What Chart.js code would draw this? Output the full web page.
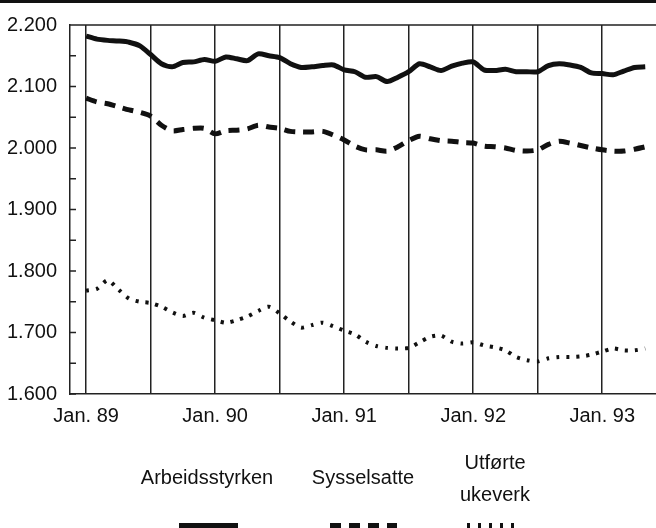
<!DOCTYPE html>
<html>
<head>
<meta charset="utf-8">
<script src="https://cdn.jsdelivr.net/npm/chart.js@4.4.1/dist/chart.umd.min.js"></script>
<style>
  html, body { margin: 0; padding: 0; background: #fff; }
  #wrap { width: 656px; height: 528px; position: relative; }
</style>
</head>
<body>
<div id="wrap"><canvas id="chart"></canvas></div>
<script>
// Monthly values Jan. 89 - May 93, in thousands
const seriesNames = ['Arbeidsstyrken', 'Sysselsatte', 'Utførte ukeverk'];
const xTickLabels = ['Jan. 89', 'Jan. 90', 'Jan. 91', 'Jan. 92', 'Jan. 93'];

const arbeidsstyrken = [
  2182, 2177, 2175, 2174, 2172, 2166, 2152, 2137, 2132, 2139, 2140, 2144,
  2141, 2148, 2145, 2142, 2153, 2150, 2147, 2137, 2131, 2132, 2134, 2135,
  2127, 2124, 2115, 2116, 2108, 2115, 2124, 2137, 2132, 2126, 2133, 2138,
  2140, 2127, 2126, 2128, 2124, 2124, 2124, 2134, 2137, 2135, 2131, 2122,
  2121, 2119, 2125, 2131, 2132
];
const sysselsatte = [
  2081, 2075, 2072, 2067, 2062, 2058, 2052, 2037, 2028, 2030, 2032, 2032,
  2023, 2028, 2029, 2031, 2037, 2034, 2032, 2027, 2026, 2026, 2027, 2021,
  2013, 2003, 1997, 1997, 1995, 2002, 2012, 2019, 2015, 2012, 2011, 2009,
  2008, 2003, 2002, 2000, 1996, 1995, 1997, 2006, 2011, 2008, 2004, 2000,
  1997, 1995, 1995, 1998, 2002
];
const ukeverk = [
  1768, 1771, 1785, 1770, 1755, 1750, 1748, 1742, 1733, 1727, 1732, 1724,
  1720, 1716, 1720, 1726, 1735, 1742, 1731, 1718, 1708, 1712, 1716, 1710,
  1703, 1697, 1685, 1678, 1675, 1674, 1675, 1684, 1693, 1695, 1685, 1682,
  1684, 1679, 1676, 1671, 1660, 1655, 1653, 1658, 1660, 1660, 1661, 1664,
  1669, 1674, 1671, 1671, 1674
];

const FONT = "'Liberation Sans Narrow', 'Arial Narrow', 'Liberation Sans', sans-serif";
const INK = '#111';
const RULE = '#222';

const toPoints = (arr) => arr.map((v, i) => ({ x: i, y: v }));

// legend drawn as label above its line sample
const legendStyle = [
  { cx: 207, lines: ['Arbeidsstyrken'], dash: [], x0: 179, x1: 238 },
  { cx: 363, lines: ['Sysselsatte'], dash: [11, 8], x0: 330, x1: 397 },
  { cx: 495, lines: ['Utførte', 'ukeverk'], dash: [3, 8], x0: 467, x1: 522 }
];

const decorations = {
  id: 'decorations',
  afterDraw(chart) {
    const { ctx, chartArea: a } = chart;
    const y = chart.scales.y;
    ctx.save();
    ctx.fillStyle = INK;
    ctx.fillRect(0, 0, chart.width, 3);

    ctx.strokeStyle = RULE;
    ctx.lineWidth = 1.5;
    ctx.beginPath();
    ctx.moveTo(a.left, a.top);
    ctx.lineTo(a.right, a.top);
    y.ticks.forEach((t) => {
      const py = y.getPixelForValue(t.value);
      ctx.moveTo(a.left, py);
      ctx.lineTo(a.left + 6, py);
    });
    ctx.stroke();

    ctx.font = '20px ' + FONT;
    ctx.fillStyle = INK;
    ctx.textAlign = 'center';
    ctx.textBaseline = 'middle';
    legendStyle.forEach((item) => {
      if (item.lines.length === 1) {
        ctx.fillText(item.lines[0], item.cx, 478);
      } else {
        ctx.fillText(item.lines[0], item.cx, 463);
        ctx.fillText(item.lines[1], item.cx, 495);
      }
      ctx.strokeStyle = INK;
      ctx.lineWidth = 10;
      ctx.lineCap = 'butt';
      ctx.setLineDash(item.dash);
      ctx.beginPath();
      ctx.moveTo(item.x0, 528);
      ctx.lineTo(item.x1, 528);
      ctx.stroke();
    });
    ctx.restore();
  }
};

new Chart(document.getElementById('chart'), {
  type: 'line',
  data: {
    datasets: [
      { label: seriesNames[0], data: toPoints(arbeidsstyrken), borderColor: INK, borderWidth: 5, tension: 0.25, pointRadius: 0 },
      { label: seriesNames[1], data: toPoints(sysselsatte), borderColor: INK, borderWidth: 5, borderDash: [11, 8], tension: 0.25, pointRadius: 0 },
      { label: seriesNames[2], data: toPoints(ukeverk), borderColor: INK, borderWidth: 4, borderDash: [3, 7], tension: 0.25, pointRadius: 0 }
    ]
  },
  options: {
    responsive: true,
    maintainAspectRatio: false,
    animation: false,
    layout: { padding: { top: 21, right: 0, left: 0, bottom: 0 } },
    plugins: { legend: { display: false }, tooltip: { enabled: false } },
    scales: {
      x: {
        type: 'linear',
        min: -1.5,
        max: 53,
        afterBuildTicks: (scale) => {
          scale.ticks = [0, 6, 12, 18, 24, 30, 36, 42, 48].map((v) => ({ value: v }));
        },
        afterFit: (scale) => { scale.height = 134; },
        grid: { color: RULE, lineWidth: 1.5, drawTicks: false },
        border: { color: RULE, width: 1.5 },
        ticks: {
          padding: 10,
          maxRotation: 0,
          autoSkip: false,
          color: INK,
          font: { family: FONT, size: 20 },
          callback: (v) => (v % 12 === 0 ? xTickLabels[v / 12] : '')
        }
      },
      y: {
        min: 1600,
        max: 2200,
        afterFit: (scale) => { scale.width = 70; },
        grid: { drawOnChartArea: false, drawTicks: false },
        border: { color: RULE, width: 1.5 },
        ticks: {
          stepSize: 50,
          padding: 13,
          color: INK,
          font: { family: FONT, size: 20 },
          callback: (v) => (v % 100 === 0 ? (v / 1000).toFixed(3) : '')
        }
      }
    }
  },
  plugins: [decorations]
});
</script>
</body>
</html>
